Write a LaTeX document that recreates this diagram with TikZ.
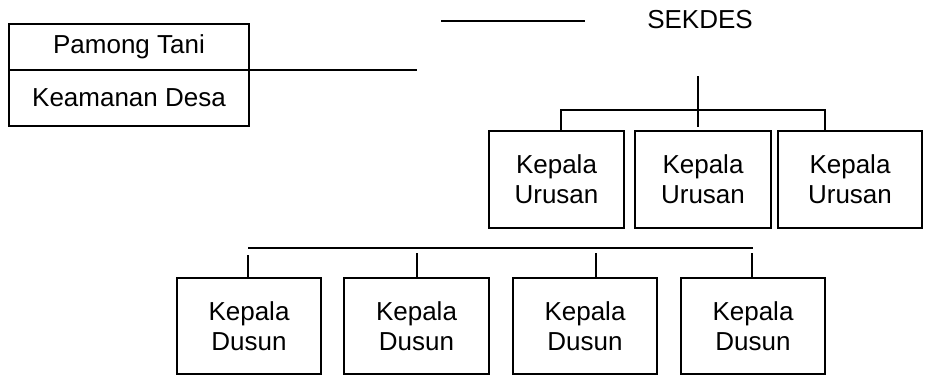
\documentclass[tikz,border=0pt]{standalone}
\usepackage{fontspec}
\setmainfont{Liberation Sans}

\begin{document}
\begin{tikzpicture}[x=1pt, y=-1pt, line width=1.7pt,
    box/.style={draw, rectangle, inner sep=0pt, outer sep=0pt, align=center, font=\fontsize{26}{30}\selectfont},
    lbl/.style={inner sep=0pt, font=\fontsize{26}{30}\selectfont}]
    \useasboundingbox (0,0) rectangle (926,383);

    \node[box, minimum width=240pt, minimum height=46pt] (pamong) at (129,47) {Pamong Tani};
    \node[box, minimum width=240pt, minimum height=56pt] (keamanan) at (129,98) {Keamanan Desa};
    \coordinate (pamongend) at (417,70);
    \draw (pamong.south east) -- (pamongend);

    \node[lbl] (sekdes) at (700,20) {SEKDES};
    \coordinate (topa) at (441,21);
    \coordinate (topb) at (585,21);
    \draw (topa) -- (topb);

    \node[box, minimum width=135pt, minimum height=97pt] (urusan1) at (556.5,179.5) {Kepala\\Urusan};
    \node[box, minimum width=136pt, minimum height=97pt] (urusan2) at (703,179.5) {Kepala\\Urusan};
    \node[box, minimum width=144pt, minimum height=97pt] (urusan3) at (850,179.5) {Kepala\\Urusan};

    \coordinate (stemtop) at (698,76);
    \coordinate (stembot) at (698,127);
    \coordinate (barl) at (561,110);
    \coordinate (barr) at (825,110);
    \draw (stemtop) -- (stembot);
    \draw (barl |- urusan1.north) -- (barl) -- (barr) -- (barr |- urusan3.north);

    \node[box, minimum width=144pt, minimum height=96pt] (dusun1) at (249,326) {Kepala\\Dusun};
    \node[box, minimum width=145pt, minimum height=96pt] (dusun2) at (416.5,326) {Kepala\\Dusun};
    \node[box, minimum width=144pt, minimum height=96pt] (dusun3) at (585,326) {Kepala\\Dusun};
    \node[box, minimum width=144pt, minimum height=96pt] (dusun4) at (753,326) {Kepala\\Dusun};

    \coordinate (dbarl) at (248,248);
    \coordinate (dbarr) at (753,248);
    \draw (dbarl) -- (dbarr);
    \coordinate (dtop1) at (248,255);
    \coordinate (dtop2) at (417,253);
    \coordinate (dtop3) at (596,253);
    \coordinate (dtop4) at (752,253);
    \draw (dtop1) -- (dtop1 |- dusun1.north);
    \draw (dtop2) -- (dtop2 |- dusun2.north);
    \draw (dtop3) -- (dtop3 |- dusun3.north);
    \draw (dtop4) -- (dtop4 |- dusun4.north);
\end{tikzpicture}
\end{document}
